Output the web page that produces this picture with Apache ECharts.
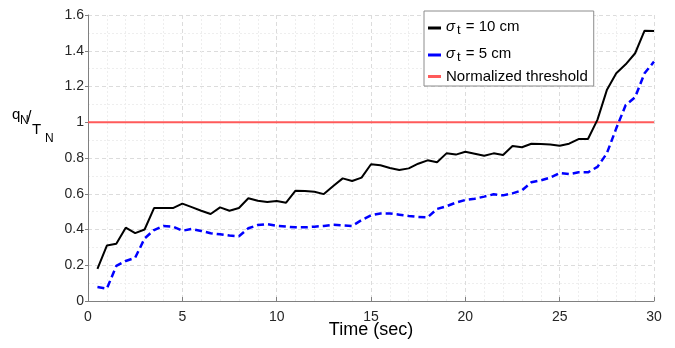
<!DOCTYPE html>
<html>
<head>
<meta charset="utf-8">
<script src="https://cdn.jsdelivr.net/npm/echarts@6/dist/echarts.min.js"></script>
<style>html,body{margin:0;padding:0;background:#fff;}#c{width:675px;height:348px;}</style>
</head>
<body>
<div id="c"></div>
<script>
const times = [0.5,1,1.5,2,2.5,3,3.5,4,4.5,5,5.5,6,6.5,7,7.5,8,8.5,9,9.5,10,10.5,11,11.5,12,12.5,13,13.5,14,14.5,15,15.5,16,16.5,17,17.5,18,18.5,19,19.5,20,20.5,21,21.5,22,22.5,23,23.5,24,24.5,25,25.5,26,26.5,27,27.5,28,28.5,29,29.5,30];
const sigma10 = [0.18,0.31,0.32,0.41,0.38,0.40,0.52,0.52,0.52,0.545,0.525,0.505,0.487,0.524,0.505,0.52,0.575,0.561,0.554,0.56,0.55,0.617,0.615,0.611,0.598,0.643,0.686,0.671,0.69,0.765,0.759,0.744,0.733,0.742,0.768,0.787,0.776,0.826,0.819,0.835,0.824,0.813,0.826,0.817,0.867,0.86,0.88,0.878,0.876,0.869,0.88,0.906,0.906,1.013,1.18,1.274,1.324,1.386,1.512,1.51];
const sigma5 = [0.078,0.069,0.196,0.224,0.242,0.35,0.397,0.42,0.416,0.393,0.403,0.392,0.379,0.373,0.366,0.362,0.407,0.425,0.43,0.421,0.416,0.412,0.412,0.416,0.42,0.427,0.423,0.42,0.453,0.479,0.49,0.49,0.483,0.476,0.47,0.468,0.515,0.53,0.55,0.565,0.572,0.584,0.597,0.591,0.602,0.619,0.664,0.675,0.69,0.716,0.71,0.72,0.72,0.75,0.826,0.966,1.096,1.14,1.274,1.339];
const thresholdX = [0, 30];
const thresholdY = [1, 1];
const xTicks = [0,5,10,15,20,25,30];
const yTicks = [0,0.2,0.4,0.6,0.8,1,1.2,1.4,1.6];

const chart = echarts.init(document.getElementById('c'));
const font = 'Liberation Sans, Arial, sans-serif';
const pair = (xs, ys) => xs.map((x, i) => [x, ys[i]]);
const legendRich = {
  s: {fontFamily: font, fontSize: 15, fontStyle: 'italic', color: '#000', verticalAlign: 'top', lineHeight: 18},
  sub: {fontFamily: font, fontSize: 13, color: '#000', padding: [9, 1, 0, 2], verticalAlign: 'bottom', lineHeight: 14},
  n: {fontFamily: font, fontSize: 15, color: '#000', verticalAlign: 'top', lineHeight: 18},
  m: {fontFamily: font, fontSize: 15, color: '#000', lineHeight: 20}
};
chart.setOption({
  animation: false,
  backgroundColor: '#fff',
  grid: {left: 88, right: 21, top: 15, bottom: 47, containLabel: false, outerBoundsMode: 'none'},
  legend: {
    orient: 'vertical',
    left: 424, top: 11,
    padding: [4, 6, 2, 4],
    itemGap: 5,
    itemWidth: 13, itemHeight: 3,
    backgroundColor: '#fff',
    borderColor: '#8c8c8c', borderWidth: 1,
    textStyle: {fontFamily: font, fontSize: 15, color: '#000', rich: legendRich},
    data: [
      {name: 's10', icon: 'rect'},
      {name: 's5', icon: 'rect'},
      {name: 'Normalized threshold', icon: 'rect'}
    ],
    formatter: function (n) {
      if (n === 's10') return '{s|σ}{sub|t}{n| = 10 cm}';
      if (n === 's5') return '{s|σ}{sub|t}{n| = 5 cm}';
      return '{m|Normalized threshold}';
    }
  },
  xAxis: {
    type: 'value', min: 0, max: 30, interval: 5,
    name: 'Time (sec)', nameLocation: 'middle', nameGap: 20, nameMoveOverlap: false,
    nameTextStyle: {fontFamily: font, fontSize: 18, color: '#000', verticalAlign: 'top'},
    axisLine: {show: true, lineStyle: {color: '#808080', width: 1}},
    axisTick: {show: true, inside: true, length: 4, lineStyle: {color: '#808080'}},
    axisLabel: {fontFamily: font, fontSize: 14, color: '#262626', margin: 9,
      formatter: v => xTicks.includes(v) ? String(v) : ''},
    splitLine: {show: true, lineStyle: {color: '#dcdcdc', type: [4, 3], width: 1}},
    minorTick: {show: false, splitNumber: 5},
    minorSplitLine: {show: true, lineStyle: {color: '#eeeeee', type: [2, 2], width: 1}}
  },
  yAxis: {
    type: 'value', min: 0, max: 1.6, interval: 0.2,
    axisLine: {show: true, lineStyle: {color: '#808080', width: 1}},
    axisTick: {show: true, inside: false, length: 3, lineStyle: {color: '#808080'}},
    axisLabel: {fontFamily: font, fontSize: 14, color: '#262626', margin: 4,
      formatter: v => { const t = yTicks.find(y => Math.abs(y - v) < 1e-6); return t === undefined ? '' : String(t); }},
    splitLine: {show: true, lineStyle: {color: '#dcdcdc', type: [4, 3], width: 1}},
    minorTick: {show: false, splitNumber: 2},
    minorSplitLine: {show: true, lineStyle: {color: '#eeeeee', type: [2, 2], width: 1}}
  },
  graphic: [
    {type: 'text', left: 12, top: 107, style: {text: 'q', fontFamily: font, fontSize: 15, fill: '#000'}},
    {type: 'text', left: 20, top: 115, style: {text: 'N', fontFamily: font, fontSize: 12, fill: '#000'}},
    {type: 'text', left: 27, top: 110, style: {text: '/', fontFamily: font, fontSize: 16, fill: '#000'}},
    {type: 'text', left: 32, top: 122, style: {text: 'T', fontFamily: font, fontSize: 15, fill: '#000'}},
    {type: 'text', left: 45, top: 133, style: {text: 'N', fontFamily: font, fontSize: 12, fill: '#000'}}
  ],
  series: [
    {name: 'Normalized threshold', type: 'line', data: pair(thresholdX, thresholdY), showSymbol: false, symbol: 'none',
      lineStyle: {color: '#ff5a5a', width: 2}, itemStyle: {color: '#ff5a5a'}, z: 1},
    {name: 's10', type: 'line', data: pair(times, sigma10), showSymbol: false, symbol: 'none',
      lineStyle: {color: '#000', width: 2}, itemStyle: {color: '#000'}, z: 3},
    {name: 's5', type: 'line', data: pair(times, sigma5), showSymbol: false, symbol: 'none',
      lineStyle: {color: '#0000ff', width: 2.5, type: [7, 4]}, itemStyle: {color: '#0000ff'}, z: 2}
  ]
});
</script>
</body>
</html>
